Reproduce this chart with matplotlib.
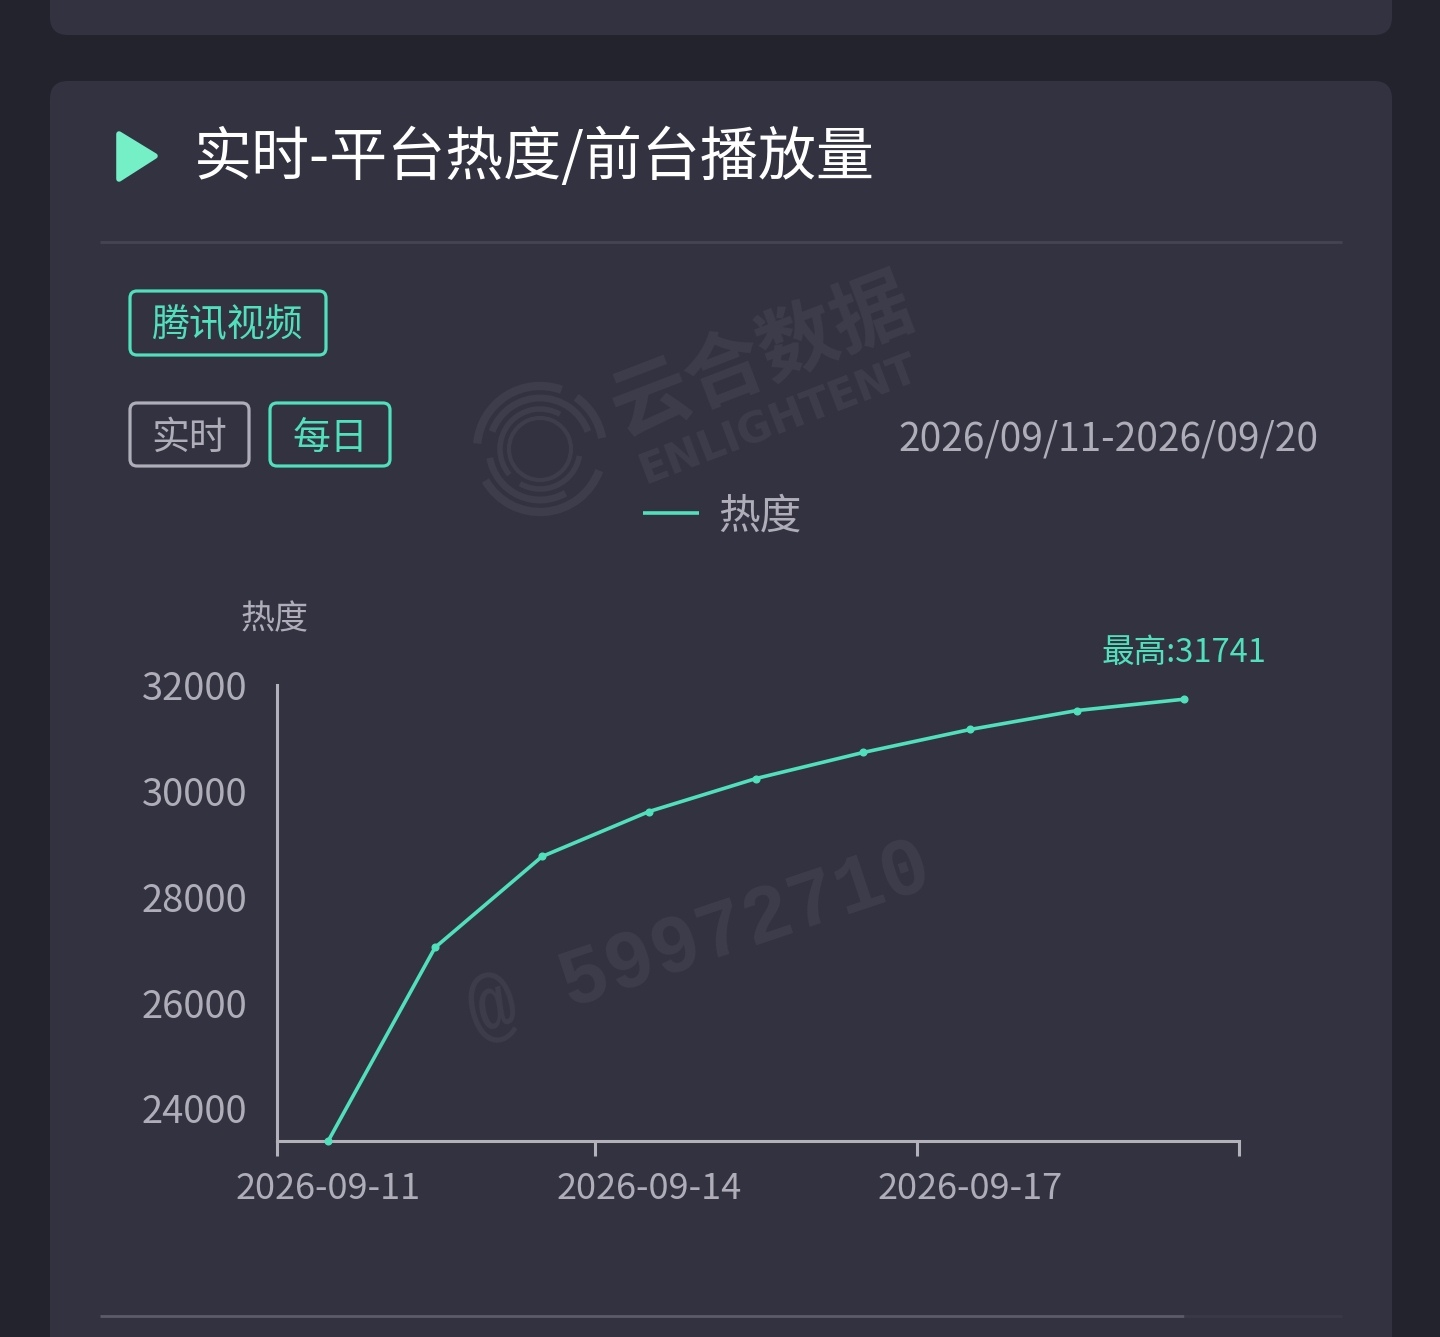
"""Daily platform heat card: dark panel with a single line chart."""

import matplotlib
matplotlib.use("Agg")
import matplotlib.pyplot as plt
from matplotlib.patches import Arc, FancyBboxPatch, Polygon

CJK = ["Noto Sans CJK SC", "DejaVu Sans"]
plt.rcParams["font.family"] = CJK

W, H = 1440, 1337
PAGE = "#23232e"
PANEL = "#333241"
ACCENT = "#4fe0bc"
GREY = "#aeadb8"
AXIS = "#b3b2bb"
WM = "#3e3d4b"

dates = ["2026-09-11", "2026-09-12", "2026-09-13", "2026-09-14", "2026-09-15",
         "2026-09-16", "2026-09-17", "2026-09-18", "2026-09-19"]
heat = [23380, 27045, 28766, 29617, 30241, 30733, 31168, 31527, 31741]
y_ticks = [24000, 26000, 28000, 30000, 32000]
x_label_idx = [0, 3, 6]
x_tick_pos = [-0.477, 2.495, 5.504, 8.513]


def round_box(ax, x0, y0, x1, y1, r, face, edge="none", lw=0.0, zorder=1):
    box = FancyBboxPatch((x0 + r, y0 + r), x1 - x0 - 2 * r, y1 - y0 - 2 * r,
                         boxstyle=f"round,pad={r},rounding_size={r}",
                         fc=face, ec=edge, lw=lw, zorder=zorder)
    ax.add_patch(box)


fig = plt.figure(figsize=(W / 100, H / 100), dpi=100, facecolor=PAGE)

# page layer in pixel coordinates, y pointing down
bg = fig.add_axes([0, 0, 1, 1])
bg.set_xlim(0, W)
bg.set_ylim(H, 0)
bg.axis("off")

round_box(bg, 50, -60, 1392, 35, 18, PANEL)
round_box(bg, 50, 81, 1392, 1420, 18, PANEL)

# watermarks
bg.text(762, 357, "云合数据", color=WM, fontsize=57, fontweight="bold", rotation=21,
        ha="center", va="center", zorder=2)
bg.text(778, 420, "ENLIGHTENT", color=WM, fontsize=30, fontweight="bold", rotation=21,
        ha="center", va="center", zorder=2, family="DejaVu Sans")
bg.text(700, 942, "@ 59972710", color=WM, fontsize=58, fontweight="bold", rotation=18.5,
        ha="center", va="center", zorder=2, family="Liberation Mono")
ring_specs = [(126, 6, 20, 150), (126, 6, 185, 290), (126, 6, 305, 350),
              (102, 5, 60, 170), (102, 5, 200, 340), (80, 4, 10, 120),
              (80, 4, 140, 300), (62, 3, 0, 360)]
for dia, lw, a0, a1 in ring_specs:
    bg.add_patch(Arc((540, 449), dia, dia, theta1=a0, theta2=a1, color=WM, lw=lw, zorder=2))

# header
bg.add_patch(Polygon([(119, 134), (155, 156), (119, 179)], closed=True, fc="#74efc6",
                     ec="#74efc6", lw=4, joinstyle="round", zorder=3))
bg.text(194, 158, "实时-平台热度/前台播放量", color="white", fontsize=41.8, ha="left",
        va="center", zorder=3)
bg.plot([100, 1342], [242, 242], color="#444452", lw=2, solid_capstyle="butt", zorder=3)
bg.plot([100, 1184], [1316, 1316], color="#5c5b68", lw=2, solid_capstyle="butt", zorder=3)
bg.plot([1184, 1342], [1316, 1316], color="#3a3947", lw=2, solid_capstyle="butt", zorder=3)

# tabs
round_box(bg, 130, 291, 326, 355, 7, "none", ACCENT, 2.3, zorder=3)
bg.text(228, 326, "腾讯视频", color=ACCENT, fontsize=27.3, ha="center", va="center", zorder=3)
round_box(bg, 130, 403, 249, 466, 7, "none", GREY, 2.3, zorder=3)
bg.text(189, 438, "实时", color=GREY, fontsize=27.3, ha="center", va="center", zorder=3)
round_box(bg, 270, 403, 390, 466, 7, "none", ACCENT, 2.3, zorder=3)
bg.text(330, 438, "每日", color=ACCENT, fontsize=27.3, ha="center", va="center", zorder=3)
bg.text(1318, 440, "2026/09/11-2026/09/20", color=GREY, fontsize=28, ha="right",
        va="center", zorder=3)

# legend
bg.plot([643, 699], [513, 513], color=ACCENT, lw=2.6, solid_capstyle="butt", zorder=3)
bg.text(718, 517, "热度", color=GREY, fontsize=30, ha="left", va="center", zorder=3)
bg.text(275, 620, "热度", color=GREY, fontsize=24.5, ha="center", va="center", zorder=3)

# chart, spanning the pixel box of the original axes
ax_left, ax_right, ax_top, ax_bottom = 277, 1239, 685, 1141
ax = fig.add_axes([ax_left / W, 1 - ax_bottom / H, (ax_right - ax_left) / W,
                   (ax_bottom - ax_top) / H], facecolor="none")
per_px = 2000 / 105.75
ax.set_ylim(32000 - (ax_bottom - 685.5) * per_px, 32000 + 0.5 * per_px)
ax.set_xlim(x_tick_pos[0], x_tick_pos[-1])
ax.plot(range(len(heat)), heat, color=ACCENT, lw=2.6, marker="o", ms=4.8, clip_on=False, zorder=5)

for side in ("top", "right"):
    ax.spines[side].set_visible(False)
for side in ("left", "bottom"):
    ax.spines[side].set_color(AXIS)
    ax.spines[side].set_linewidth(2.2)

ax.set_yticks(y_ticks)
ax.set_yticklabels([str(v) for v in y_ticks])
ax.tick_params(axis="y", length=0, pad=21.5, labelsize=27.5, labelcolor=GREY)
ax.set_xticks(x_tick_pos)
ax.set_xticklabels([])
ax.tick_params(axis="x", length=11, width=2.2, color=AXIS)
for i in x_label_idx:
    ax.annotate(dates[i], (i, 0), xycoords=("data", "axes fraction"), xytext=(0, -34.5),
                textcoords="offset points", ha="center", va="center", color=GREY, fontsize=26)

peak = max(heat)
ax.annotate(f"最高:{peak}", (heat.index(peak), peak), xytext=(0, 33.5),
            textcoords="offset points", ha="center", va="center", color=ACCENT, fontsize=23.5)

fig.savefig("out.png", dpi=100, facecolor=PAGE)
